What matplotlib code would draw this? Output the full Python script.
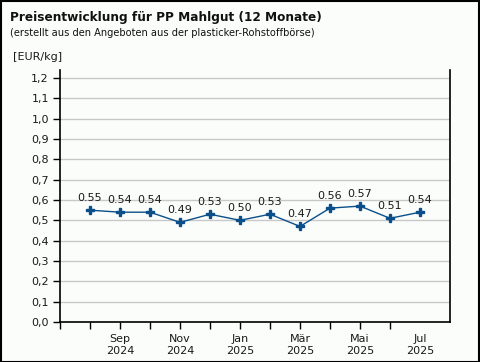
import matplotlib
matplotlib.use("Agg")
import matplotlib.pyplot as plt
from matplotlib.ticker import FixedLocator, FuncFormatter

months = ["Aug 2024", "Sep 2024", "Okt 2024", "Nov 2024", "Dez 2024", "Jan 2025",
          "Feb 2025", "Mär 2025", "Apr 2025", "Mai 2025", "Jun 2025", "Jul 2025"]
values = [0.55, 0.54, 0.54, 0.49, 0.53, 0.50, 0.53, 0.47, 0.56, 0.57, 0.51, 0.54]
label_pos = [1, 3, 5, 7, 9, 11]
label_txt = ["Sep\n2024", "Nov\n2024", "Jan\n2025", "Mär\n2025", "Mai\n2025", "Jul\n2025"]
yticks = [i / 10 for i in range(13)]

bg = "#fbfdfb"
line_col = "#0b4f8a"
txt_col = "#1a1a1a"

plt.rcParams['font.family'] = ['DejaVu Sans']
fig = plt.figure(figsize=(4.8, 3.62), dpi=100, facecolor=bg)
W, H = 480, 362
ax = fig.add_axes([60 / W, 1 - 322 / H, 390 / W, (322 - 70) / H])
ax.set_facecolor(bg)

x = list(range(len(values)))
ax.plot(x, values, color=line_col, lw=1.0, marker="P", ms=6, mec=line_col, mfc=line_col)
for xi, v in zip(x, values):
    ax.annotate(f"{v:.2f}", (xi, v), xytext=(0, 5), textcoords="offset points",
                ha="center", va="bottom", fontsize=8, color=txt_col)

ax.set_xlim(-1, 12)
ax.set_ylim(0, 1.2 + 0.1 * 8 / 20.33)
ax.set_yticks(yticks)
ax.yaxis.set_major_formatter(FuncFormatter(lambda v, p: f"{v:.1f}".replace(".", ",")))
ax.grid(axis="y", color="#c8c8c8", lw=1)
ax.set_axisbelow(True)

ax.xaxis.remove_overlapping_locs = False
ax.xaxis.set_major_locator(FixedLocator(label_pos))
ax.set_xticklabels(label_txt)
ax.xaxis.set_minor_locator(FixedLocator(list(range(-1, 11))))
ax.tick_params(axis="x", which="major", length=0, pad=9, labelsize=8)
ax.tick_params(axis="x", which="minor", length=5, width=1, color="black")
ax.tick_params(axis="y", length=5, width=1, labelsize=8, pad=3)
ax.tick_params(axis="y", colors="black", labelcolor=txt_col)
ax.tick_params(axis="x", colors="black", labelcolor=txt_col)
ax.spines["top"].set_visible(False)
for s in ["left", "bottom", "right"]:
    ax.spines[s].set_linewidth(1.2)
    ax.spines[s].set_color("black")

fig.text(10 / W, 1 - 17 / H, "Preisentwicklung für PP Mahlgut (12 Monate)", fontsize=8.7,
         fontweight="bold", color="#111111", va="center", ha="left")
fig.text(10 / W, 1 - 33 / H, "(erstellt aus den Angeboten aus der plasticker-Rohstoffbörse)",
         fontsize=7.1, color="#111111", va="center", ha="left")
fig.text(13 / W, 1 - 57 / H, "[EUR/kg]", fontsize=8, color=txt_col, va="center", ha="left")

fig.patches.append(plt.Rectangle((0.5 / W, 0.5 / H), 1 - 1.5 / W, 1 - 1.5 / H,
                                 transform=fig.transFigure, fill=False,
                                 edgecolor="black", lw=1.5))
fig.savefig("out.png", dpi=100, facecolor=bg)
